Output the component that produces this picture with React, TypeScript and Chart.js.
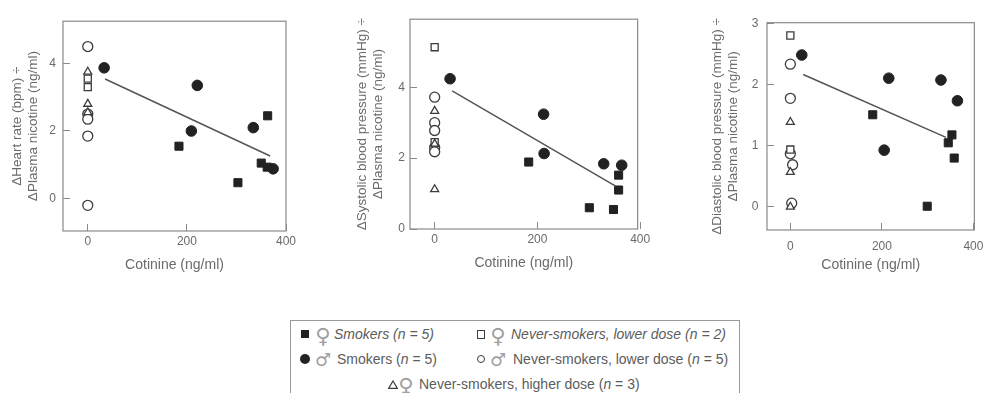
import React, { useEffect, useRef } from "react";
import { Chart, registerables } from "chart.js";

Chart.register(...registerables);

type P = { x: number; y: number };

// ---------------- DATA ----------------
const xTicks = [0, 200, 400];
const hrTicks = [0, 2, 4];
const sbpTicks = [0, 2, 4];
const dbpTicks = [0, 1, 2, 3];

const xTitle = "Cotinine (ng/ml)";
const hrTitle = ["\u0394Heart rate (bpm) \u00f7", "\u0394Plasma nicotine (ng/ml)"];
const sbpTitle = ["\u0394Systolic blood pressure (mmHg) \u00f7", "\u0394Plasma nicotine (ng/ml)"];
const dbpTitle = ["\u0394Diastolic blood pressure (mmHg) \u00f7", "\u0394Plasma nicotine (ng/ml)"];

// Heart rate panel
const hrFemaleSmokers: P[] = [
  { x: 184, y: 1.55 }, { x: 363, y: 2.45 }, { x: 303, y: 0.47 }, { x: 350, y: 1.05 }, { x: 362, y: 0.93 },
];
const hrMaleSmokers: P[] = [
  { x: 33, y: 3.87 }, { x: 221, y: 3.35 }, { x: 209, y: 2.0 }, { x: 334, y: 2.1 }, { x: 374, y: 0.88 },
];
const hrFemaleNeverLow: P[] = [{ x: 0, y: 3.55 }, { x: 0, y: 3.3 }];
const hrMaleNeverLow: P[] = [
  { x: 0, y: 4.5 }, { x: 0, y: 2.5 }, { x: 0, y: 2.35 }, { x: 0, y: 1.85 }, { x: 0, y: -0.2 },
];
const hrNeverHigh: P[] = [{ x: 0, y: 3.75 }, { x: 0, y: 2.8 }, { x: 0, y: 2.55 }];
const hrFit: P[] = [{ x: 35, y: 3.54 }, { x: 368, y: 1.26 }];

// Systolic panel
const sbpFemaleSmokers: P[] = [
  { x: 183, y: 1.89 }, { x: 301, y: 0.6 }, { x: 348, y: 0.55 }, { x: 358, y: 1.52 }, { x: 358, y: 1.1 },
];
const sbpMaleSmokers: P[] = [
  { x: 30, y: 4.24 }, { x: 212, y: 3.24 }, { x: 213, y: 2.13 }, { x: 329, y: 1.84 }, { x: 364, y: 1.8 },
];
const sbpFemaleNeverLow: P[] = [{ x: 0, y: 5.13 }, { x: 0, y: 2.45 }];
const sbpMaleNeverLow: P[] = [
  { x: 0, y: 3.72 }, { x: 0, y: 3.0 }, { x: 0, y: 2.78 }, { x: 0, y: 2.3 }, { x: 0, y: 2.18 },
];
const sbpNeverHigh: P[] = [{ x: 0, y: 3.33 }, { x: 0, y: 2.4 }, { x: 0, y: 1.12 }];
const sbpFit: P[] = [{ x: 34, y: 3.9 }, { x: 353, y: 1.2 }];

// Diastolic panel
const dbpFemaleSmokers: P[] = [
  { x: 180, y: 1.5 }, { x: 299, y: 0.0 }, { x: 345, y: 1.04 }, { x: 353, y: 1.17 }, { x: 358, y: 0.79 },
];
const dbpMaleSmokers: P[] = [
  { x: 25, y: 2.48 }, { x: 215, y: 2.1 }, { x: 205, y: 0.92 }, { x: 329, y: 2.07 }, { x: 365, y: 1.73 },
];
const dbpFemaleNeverLow: P[] = [{ x: 0, y: 2.8 }, { x: 0, y: 0.93 }];
const dbpMaleNeverLow: P[] = [
  { x: 0, y: 2.33 }, { x: 0, y: 1.77 }, { x: 0, y: 0.86 }, { x: 5, y: 0.68 }, { x: 3, y: 0.05 },
];
const dbpNeverHigh: P[] = [{ x: 0, y: 1.38 }, { x: 0, y: 0.56 }, { x: 0, y: -0.01 }];
const dbpFit: P[] = [{ x: 28, y: 2.16 }, { x: 340, y: 1.13 }];

// Legend
const legendGenders = ["\u2640", "\u2642", "\u2640", "\u2642", "\u2640"];
const legendTexts = [
  "Smokers",
  "Smokers",
  "Never-smokers, lower dose",
  "Never-smokers, lower dose",
  "Never-smokers, higher dose",
];
const legendN = ["5", "5", "2", "5", "3"];

// ---------------- STYLE / LAYOUT ----------------
const FONT = "'Liberation Sans', Arial, Helvetica, sans-serif";
const TXT = "#6a6a6a";
const AXIS = "#8a8a8a";
const DARK = "#222222";
const OPEN = "#3c3c3c";
const FIT = "#555555";
const H = 290;

type Spec = {
  L: number; W: number; cl: number; cr: number; ct: number; cb: number;
  xMin: number; xMax: number; yMin: number; yMax: number;
  yTicks: number[]; yTitle: string[]; yPad: number; xPad: number; xTitlePad: number;
  fs: P[]; ms: P[]; fn: P[]; mn: P[]; nh: P[]; fit: P[];
};

const PANELS: Spec[] = [
  {
    L: 0, W: 330, cl: 63, cr: 286, ct: 17, cb: 231,
    xMin: -50, xMax: 400, yMin: -0.96, yMax: 5.25,
    yTicks: hrTicks, yTitle: hrTitle, yPad: 14, xPad: 10.5, xTitlePad: 16,
    fs: hrFemaleSmokers, ms: hrMaleSmokers, fn: hrFemaleNeverLow, mn: hrMaleNeverLow, nh: hrNeverHigh, fit: hrFit,
  },
  {
    L: 345, W: 315, cl: 410, cr: 641, ct: 16, cb: 229,
    xMin: -48, xMax: 395, yMin: 0, yMax: 5.92,
    yTicks: sbpTicks, yTitle: sbpTitle, yPad: 12, xPad: 10, xTitlePad: 18,
    fs: sbpFemaleSmokers, ms: sbpMaleSmokers, fn: sbpFemaleNeverLow, mn: sbpMaleNeverLow, nh: sbpNeverHigh, fit: sbpFit,
  },
  {
    L: 700, W: 300, cl: 767, cr: 988, ct: 20, cb: 230,
    xMin: -51, xMax: 402, yMin: -0.39, yMax: 3.01,
    yTicks: dbpTicks, yTitle: dbpTitle, yPad: 15.5, xPad: 16.5, xTitlePad: 16.5,
    fs: dbpFemaleSmokers, ms: dbpMaleSmokers, fn: dbpFemaleNeverLow, mn: dbpMaleNeverLow, nh: dbpNeverHigh, fit: dbpFit,
  },
];

const framePlugin = {
  id: "frame",
  beforeDatasetsDraw(chart: any) {
    const { ctx, chartArea: a } = chart;
    ctx.save();
    ctx.strokeStyle = AXIS;
    ctx.lineWidth = 1.2;
    ctx.strokeRect(a.left, a.top, a.right - a.left, a.bottom - a.top);
    ctx.restore();
  },
};

function makeConfig(s: Spec): any {
  const point = (data: P[], style: string, r: number, filled: boolean) => ({
    data,
    pointStyle: style,
    pointRadius: r,
    backgroundColor: filled ? DARK : "#ffffff",
    borderColor: filled ? DARK : OPEN,
    borderWidth: filled ? 1 : 1.3,
    showLine: false,
    clip: false,
  });
  return {
    type: "scatter",
    data: {
      datasets: [
        {
          data: s.fit,
          showLine: true,
          pointRadius: 0,
          borderColor: FIT,
          borderWidth: 1.5,
          backgroundColor: FIT,
          clip: false,
        },
        point(s.fs, "rect", 5.7, true),
        point(s.ms, "circle", 5.3, true),
        point(s.nh, "triangle", 4.6, false),
        point(s.fn, "rect", 5, false),
        point(s.mn, "circle", 5, false),
      ],
    },
    options: {
      responsive: false,
      animation: false,
      devicePixelRatio: 1,
      layout: { padding: { left: 0, top: s.ct, right: s.L + s.W - s.cr, bottom: 0 } },
      plugins: { legend: { display: false }, tooltip: { enabled: false } },
      scales: {
        x: {
          type: "linear",
          min: s.xMin,
          max: s.xMax,
          afterBuildTicks: (sc: any) => { sc.ticks = xTicks.map((v) => ({ value: v })); },
          afterFit: (sc: any) => { sc.height = H - s.cb; },
          border: { display: false },
          grid: { drawOnChartArea: false, drawTicks: true, tickLength: -7, tickColor: AXIS, tickWidth: 1 },
          ticks: { padding: s.xPad, color: TXT, font: { family: FONT, size: 12 }, maxRotation: 0, autoSkip: false },
          title: {
            display: true, text: xTitle, color: TXT,
            font: { family: FONT, size: 14 }, padding: { top: 0, bottom: s.xTitlePad },
          },
        },
        y: {
          type: "linear",
          min: s.yMin,
          max: s.yMax,
          afterBuildTicks: (sc: any) => { sc.ticks = s.yTicks.map((v) => ({ value: v })); },
          afterFit: (sc: any) => { sc.width = s.cl - s.L; },
          border: { display: false },
          grid: { drawOnChartArea: false, drawTicks: true, tickLength: -7, tickColor: AXIS, tickWidth: 1 },
          ticks: { padding: s.yPad, color: TXT, font: { family: FONT, size: 12 }, autoSkip: false },
          title: {
            display: true, text: s.yTitle, color: TXT,
            font: { family: FONT, size: 13.5, lineHeight: 1.2 }, padding: { top: 9, bottom: 0 },
          },
        },
      },
    },
    plugins: [framePlugin],
  };
}

function Panel({ spec }: { spec: Spec }) {
  const ref = useRef<HTMLCanvasElement>(null);
  useEffect(() => {
    const chart = new Chart(ref.current as HTMLCanvasElement, makeConfig(spec));
    return () => chart.destroy();
  }, [spec]);
  return (
    <canvas
      ref={ref}
      width={spec.W}
      height={H}
      style={{ position: "absolute", left: spec.L, top: 0, width: spec.W, height: H }}
    />
  );
}

function Symbol({ kind }: { kind: number }) {
  if (kind === 0)
    return <span style={{ display: "block", width: 8, height: 8, background: DARK }} />;
  if (kind === 1)
    return <span style={{ display: "block", width: 10, height: 10, borderRadius: "50%", background: DARK }} />;
  if (kind === 2)
    return <span style={{ display: "block", width: 6, height: 7, border: `1.4px solid ${OPEN}` }} />;
  if (kind === 3)
    return <span style={{ display: "block", width: 6, height: 6, borderRadius: "50%", border: `1.4px solid ${OPEN}` }} />;
  return (
    <svg width={10} height={9} style={{ display: "block" }}>
      <polygon points="5,1 9.3,8.3 0.7,8.3" fill="none" stroke={OPEN} strokeWidth={1.2} />
    </svg>
  );
}

// legend positions (absolute page coordinates): symbol centre x, gender centre x, text start x, row centre y
const LEG_POS = [
  { sx: 304, gx: 322, tx: 333, y: 333 },
  { sx: 304, gx: 322, tx: 336, y: 358 },
  { sx: 480, gx: 497, tx: 510, y: 333 },
  { sx: 480, gx: 497, tx: 512, y: 358 },
  { sx: 392, gx: 405, tx: 418, y: 383 },
];

function Legend() {
  const boxL = 290;
  const boxT = 320;
  return (
    <div
      style={{
        position: "absolute", left: boxL, top: boxT, width: 450, height: 100,
        border: "1px solid #9a9a9a", boxSizing: "border-box",
        fontFamily: FONT, color: "#5c5c5c", fontSize: 14,
      }}
    >
      {legendTexts.map((t, i) => {
        const p = LEG_POS[i];
        const italic = i === 0 || i === 2;
        const female = legendGenders[i] === "\u2640";
        return (
          <React.Fragment key={i}>
            <span
              style={{
                position: "absolute", left: p.sx - boxL - 5, top: p.y - boxT - 5,
                width: 10, height: 10, display: "flex", alignItems: "center", justifyContent: "center",
              }}
            >
              <Symbol kind={i} />
            </span>
            <span
              style={{
                position: "absolute", left: p.gx - boxL - 12, width: 24, textAlign: "center",
                top: p.y - boxT - (female ? 10 : 11), lineHeight: "24px",
                fontSize: female ? 21 : 18, color: "#a0a0a0",
                fontFamily: "'DejaVu Sans', sans-serif",
              }}
            >
              {legendGenders[i]}
            </span>
            <span
              style={{
                position: "absolute", left: p.tx - boxL, top: p.y - boxT - 9, lineHeight: "18px",
                whiteSpace: "nowrap", fontStyle: italic ? "italic" : "normal",
              }}
            >
              {t} (<i>n</i> = {legendN[i]})
            </span>
          </React.Fragment>
        );
      })}
    </div>
  );
}

export default function App() {
  return (
    <div
      style={{
        position: "absolute", left: 0, top: 0, width: 1000, height: 393,
        overflow: "hidden", background: "#ffffff",
      }}
    >
      {PANELS.map((s, i) => (
        <Panel key={i} spec={s} />
      ))}
      <Legend />
    </div>
  );
}
